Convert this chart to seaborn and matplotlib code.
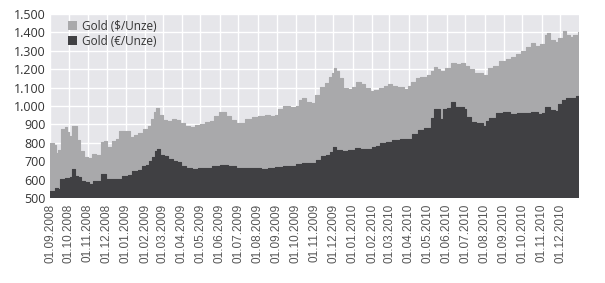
import matplotlib
matplotlib.use("Agg")
import matplotlib.pyplot as plt
from matplotlib.patches import Patch
from matplotlib.ticker import FuncFormatter
import pandas as pd
import seaborn as sns

# ---- data ----
usd_dates = [
    "2008-09-01", "2008-09-07", "2008-09-11", "2008-09-14", "2008-09-19", "2008-09-25", "2008-09-28",
    "2008-10-01", "2008-10-07", "2008-10-14", "2008-10-19", "2008-10-26", "2008-11-01", "2008-11-08",
    "2008-11-14", "2008-11-22", "2008-11-27", "2008-12-02", "2008-12-10", "2008-12-16", "2008-12-21",
    "2008-12-31", "2009-01-08", "2009-01-14", "2009-01-20", "2009-01-29", "2009-02-06", "2009-02-10",
    "2009-02-15", "2009-02-19", "2009-02-23", "2009-03-02", "2009-03-08", "2009-03-16", "2009-03-23",
    "2009-03-29", "2009-04-06", "2009-04-14", "2009-04-22", "2009-04-30", "2009-05-08", "2009-05-16",
    "2009-05-23", "2009-05-31", "2009-06-05", "2009-06-11", "2009-06-19", "2009-06-27", "2009-07-03",
    "2009-07-12", "2009-07-23", "2009-08-01", "2009-08-13", "2009-08-21", "2009-08-29", "2009-09-03",
    "2009-09-11", "2009-09-22", "2009-10-02", "2009-10-06", "2009-10-11", "2009-10-18", "2009-10-26",
    "2009-11-01", "2009-11-09", "2009-11-17", "2009-11-24", "2009-11-28", "2009-12-02", "2009-12-05",
    "2009-12-10", "2009-12-16", "2009-12-24", "2009-12-31", "2010-01-06", "2010-01-14", "2010-01-20",
    "2010-01-28", "2010-02-04", "2010-02-12", "2010-02-20", "2010-02-26", "2010-03-05", "2010-03-14",
    "2010-03-24", "2010-03-31", "2010-04-04", "2010-04-12", "2010-04-20", "2010-04-30", "2010-05-07",
    "2010-05-11", "2010-05-16", "2010-05-21", "2010-05-29", "2010-06-08", "2010-06-16", "2010-06-24",
    "2010-06-30", "2010-07-07", "2010-07-15", "2010-07-24", "2010-07-29", "2010-08-06", "2010-08-14",
    "2010-08-25", "2010-09-04", "2010-09-12", "2010-09-20", "2010-09-28", "2010-10-06", "2010-10-14",
    "2010-10-22", "2010-10-29", "2010-11-06", "2010-11-09", "2010-11-15", "2010-11-22", "2010-11-28",
    "2010-12-05", "2010-12-10", "2010-12-16", "2010-12-22", "2010-12-29", "2010-12-31",
]
usd_values = [
    800, 790, 745, 760, 875, 885, 860,
    835, 893, 813, 757, 725, 720, 738,
    735, 805, 812, 775, 812, 820, 862,
    866, 830, 840, 852, 875, 890, 930,
    970, 990, 950, 925, 918, 930, 925,
    905, 890, 885, 895, 900, 912, 920,
    948, 970, 965, 944, 925, 905, 908,
    930, 940, 946, 953, 948, 952, 985,
    998, 995, 1000, 1035, 1042, 1022, 1015,
    1060, 1105, 1125, 1160, 1180, 1205, 1190,
    1150, 1100, 1095, 1105, 1128, 1120, 1100,
    1080, 1085, 1098, 1110, 1122, 1110, 1105,
    1090, 1110, 1130, 1152, 1160, 1170, 1190,
    1212, 1200, 1190, 1205, 1232, 1230, 1235,
    1215, 1200, 1180, 1180, 1170, 1205, 1218,
    1245, 1255, 1265, 1285, 1300, 1318, 1345,
    1325, 1335, 1385, 1395, 1360, 1350, 1370,
    1410, 1385, 1375, 1385, 1400, 1405,
]

eur_dates = [
    "2008-09-01", "2008-09-06", "2008-09-09", "2008-09-14", "2008-09-17", "2008-09-25", "2008-10-03",
    "2008-10-07", "2008-10-11", "2008-10-16", "2008-10-21", "2008-10-27", "2008-11-03", "2008-11-09",
    "2008-11-16", "2008-11-22", "2008-11-25", "2008-11-30", "2008-12-10", "2008-12-19", "2008-12-26",
    "2009-01-04", "2009-01-11", "2009-01-20", "2009-01-27", "2009-02-02", "2009-02-07", "2009-02-12",
    "2009-02-17", "2009-02-20", "2009-02-25", "2009-03-03", "2009-03-10", "2009-03-18", "2009-03-24",
    "2009-03-31", "2009-04-08", "2009-04-17", "2009-04-27", "2009-05-08", "2009-05-19", "2009-06-01",
    "2009-06-14", "2009-06-27", "2009-07-12", "2009-07-24", "2009-08-06", "2009-08-17", "2009-08-29",
    "2009-09-11", "2009-09-23", "2009-10-02", "2009-10-11", "2009-10-24", "2009-11-03", "2009-11-11",
    "2009-11-19", "2009-11-25", "2009-12-01", "2009-12-05", "2009-12-14", "2009-12-24", "2010-01-04",
    "2010-01-12", "2010-01-22", "2010-02-01", "2010-02-07", "2010-02-14", "2010-02-23", "2010-03-05",
    "2010-03-18", "2010-03-31", "2010-04-06", "2010-04-16", "2010-04-25", "2010-05-02", "2010-05-07",
    "2010-05-11", "2010-05-16", "2010-05-21", "2010-05-26", "2010-06-01", "2010-06-08", "2010-06-14",
    "2010-06-22", "2010-06-29", "2010-07-03", "2010-07-11", "2010-07-19", "2010-07-29", "2010-08-03",
    "2010-08-09", "2010-08-19", "2010-08-30", "2010-09-11", "2010-09-22", "2010-10-03", "2010-10-14",
    "2010-10-26", "2010-11-01", "2010-11-07", "2010-11-14", "2010-11-22", "2010-11-28", "2010-12-03",
    "2010-12-10", "2010-12-18", "2010-12-26", "2010-12-31",
]
eur_values = [
    538, 540, 556, 550, 604, 610, 612,
    658, 620, 612, 595, 585, 575, 590,
    595, 628, 632, 605, 604, 602, 618,
    625, 645, 650, 672, 680, 700, 722,
    755, 768, 732, 728, 712, 702, 695,
    675, 665, 658, 662, 665, 672, 677,
    672, 665, 664, 662, 658, 662, 668,
    672, 676, 684, 690, 692, 705, 728,
    735, 750, 775, 760, 755, 760, 772,
    768, 766, 778, 785, 800, 805, 815,
    820, 822, 848, 870, 878, 880, 935,
    985, 985, 930, 982, 990, 1020, 995,
    992, 985, 940, 915, 905, 890, 920,
    937, 960, 965, 958, 960, 964, 966,
    958, 962, 992, 980, 975, 1010, 1030,
    1045, 1045, 1055, 1060,
]

series_labels = ["Gold ($/Unze)", "Gold (\u20ac/Unze)"]
month_ticks = pd.date_range("2008-09-01", "2010-12-01", freq="MS")
y_ticks = list(range(500, 1501, 100))

usd = pd.DataFrame({"date": pd.to_datetime(usd_dates), "value": usd_values})
eur = pd.DataFrame({"date": pd.to_datetime(eur_dates), "value": eur_values})

# ---- style ----
sns.set_theme(style="darkgrid", rc={
    "axes.facecolor": "#e6e6ea",
    "grid.color": "white",
    "grid.linewidth": 1.0,
})
plt.rcParams["font.family"] = ["Open Sans", "DejaVu Sans"]

usd_color = "#a9a9ab"
eur_color = "#404043"

fig = plt.figure(figsize=(6.05, 2.83), dpi=100)
ax = fig.add_axes([50 / 605, 1 - 198 / 283, 529 / 605, 184 / 283])

ax.fill_between(usd["date"], 500, usd["value"], step="post", color=usd_color, linewidth=0, zorder=2)
sns.lineplot(data=usd, x="date", y="value", ax=ax, color=usd_color, linewidth=0.8,
             drawstyle="steps-post", zorder=2)
ax.fill_between(eur["date"], 500, eur["value"], step="post", color=eur_color, linewidth=0, zorder=3)
sns.lineplot(data=eur, x="date", y="value", ax=ax, color=eur_color, linewidth=0.8,
             drawstyle="steps-post", zorder=3)

ax.set_xlim(pd.Timestamp("2008-09-01"), pd.Timestamp("2010-12-31"))
ax.set_ylim(500, 1500)
ax.set_xticks(month_ticks)
ax.set_xticklabels([d.strftime("%d.%m.%Y") for d in month_ticks], rotation=90,
                   fontsize=8.5, color="#555555", family=["Liberation Sans", "DejaVu Sans"])
ax.set_yticks(y_ticks)
ax.yaxis.set_major_formatter(FuncFormatter(lambda v, p: f"{int(v):,}".replace(",", ".")))
ax.tick_params(axis="y", labelsize=9, labelcolor="#333333", pad=3, length=0)
ax.tick_params(axis="x", pad=4, length=0)
ax.set_xlabel("")
ax.set_ylabel("")
for s in ax.spines.values():
    s.set_visible(False)
ax.set_axisbelow(True)

handles = [Patch(facecolor=usd_color, edgecolor="none"), Patch(facecolor=eur_color, edgecolor="none")]
ax.legend(handles, series_labels, loc="upper left", bbox_to_anchor=(0.025, 0.995), frameon=False,
          fontsize=8.5, handlelength=0.8, handleheight=0.8, handletextpad=0.4, labelspacing=0.2,
          borderaxespad=0.0, labelcolor="#333333")

fig.savefig("out.png", dpi=100)
